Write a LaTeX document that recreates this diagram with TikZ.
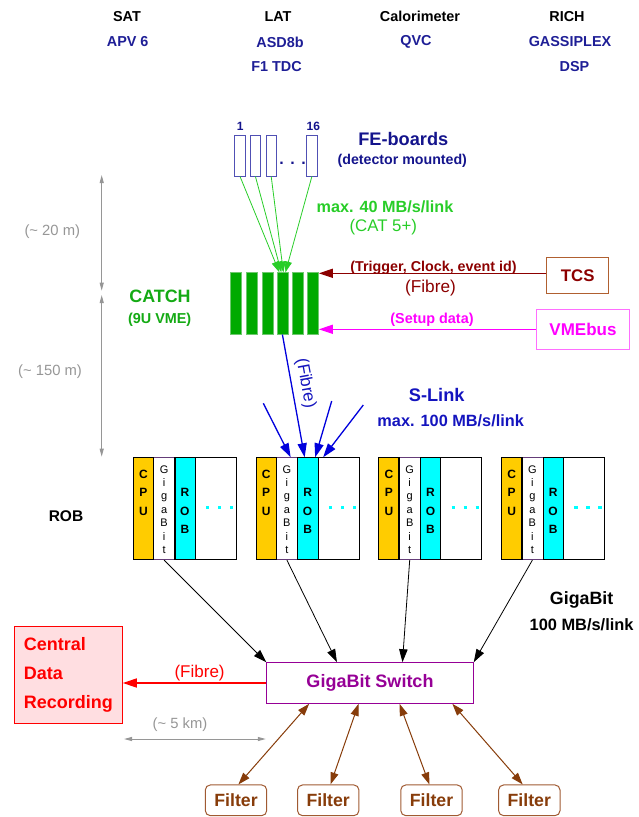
\documentclass[tikz,border=0pt]{standalone}
\usepackage{fontspec}
\setmainfont{Liberation Sans}
\usetikzlibrary{arrows.meta,calc}
\newcommand{\fsz}[1]{\fontsize{#1}{#1}\selectfont}
\definecolor{topblue}{RGB}{30,30,150}
\definecolor{feblue}{RGB}{80,80,180}
\definecolor{navy2}{RGB}{20,20,140}
\definecolor{lgreen}{RGB}{40,205,40}
\definecolor{dgreen}{RGB}{20,170,20}
\definecolor{barg}{RGB}{0,170,0}
\definecolor{barge}{RGB}{110,200,110}
\definecolor{dred}{RGB}{140,0,0}
\definecolor{tcsb}{RGB}{176,96,48}
\definecolor{mag}{RGB}{255,0,255}
\definecolor{magb}{RGB}{255,110,255}
\definecolor{barrow}{RGB}{0,0,220}
\definecolor{sblue}{RGB}{20,20,190}
\definecolor{gold}{RGB}{255,204,0}
\definecolor{cyn}{RGB}{0,255,255}
\definecolor{purp}{RGB}{150,0,150}
\definecolor{gpurp}{RGB}{100,60,120}
\definecolor{pinkf}{RGB}{255,222,225}
\definecolor{brn}{RGB}{135,60,10}
\definecolor{brnb}{RGB}{160,90,50}
\definecolor{gry}{RGB}{150,150,150}
\begin{document}
\begin{tikzpicture}[x=1pt,y=-1pt,
  lab/.style={inner sep=0pt,font=\bfseries\fsz{#1}},
  lab/.default=14.4,
  rlab/.style={inner sep=0pt,font=\fsz{#1}},
  rlab/.default=17,
  febox/.style={draw=feblue,line width=0.8pt,fill=white,minimum width=10.3pt,minimum height=41pt,inner sep=0pt},
  bar/.style={draw=barge,line width=0.5pt,fill=barg,minimum width=11pt,minimum height=61.6pt,inner sep=0pt},
  col/.style={draw=black,line width=0.8pt,minimum height=102pt,inner sep=0pt,anchor=north west},
  tip/.style={-{Triangle[length=#1,width=0.65*#1]}},
  tip/.default=12pt,
  garr/.style={lgreen,line width=0.8pt,tip=11pt},
  rarr/.style={dred,line width=1.2pt,tip=14pt},
  marr/.style={mag,line width=1.2pt,tip=14pt},
  barr/.style={barrow,line width=1.3pt,tip=14pt},
  karr/.style={black,line width=0.8pt,tip=13pt},
  brarr/.style={brn,line width=1pt,{Triangle[length=12pt,width=8pt]}-{Triangle[length=12pt,width=8pt]}},
  gyarr/.style={gry,line width=1pt,{Triangle[length=8pt,width=4pt]}-{Triangle[length=8pt,width=4pt]}},
  filt/.style={draw=brnb,line width=1pt,rounded corners=5pt,minimum width=61.4pt,minimum height=30.7pt,inner sep=0pt,text=brn,font=\bfseries\fsz{17.7}}
]
\useasboundingbox (0,0) rectangle (638,817);

% top row
\node[lab] (sat) at (127,16.5) {SAT};
\node[lab,text=topblue] (apv) at (127.7,42) {APV 6};
\node[lab] (lat) at (278,16.5) {LAT};
\node[lab,text=topblue] (asd) at (280,42) {ASD8b};
\node[lab,text=topblue] (f1) at (276.5,67) {F1 TDC};
\node[lab] (cal) at (420,16.5) {Calorimeter};
\node[lab,text=topblue] (qvc) at (416,42) {QVC};
\node[lab] (rich) at (567,16.5) {RICH};
\node[lab,text=topblue] (gas) at (570,42) {GASSIPLEX};
\node[lab,text=topblue] (dsp) at (574.5,67) {DSP};

% FE boards
\node[febox] (fe1) at (240,155.5) {};
\node[febox] (fe2) at (255.4,155.5) {};
\node[febox] (fe3) at (271.2,155.5) {};
\node[febox] (fe4) at (311.9,155.5) {};
\node[lab=12,text=navy2] (n1) at (240.3,126.7) {1};
\node[lab=12,text=navy2] (n16) at (313.3,126.7) {16};
\node[lab=16,text=navy2] (dots) at (292.6,163) {.\hspace{6.6pt}.\hspace{6.6pt}.};
\node[lab=18.2,text=navy2] (feb) at (403.3,139.3) {FE-boards};
\node[lab=14.2,text=navy2] (fem) at (402.3,161) {(detector mounted)};
\node[lab=16.2,text=lgreen] (m40) at (385,206.7) {max. 40 MB/s/link};
\node[rlab=16.8,text=lgreen] (cat5) at (383.3,226.7) {(CAT 5+)};

% CATCH
\foreach \i/\x in {1/235.8,2/251.35,3/267.3,4/282.4,5/297.95,6/313.1}
  \node[bar] (bar\i) at (\x,303.5) {};
\node[lab=17.9,text=dgreen] (catch) at (160,296.7) {CATCH};
\node[lab=14.4,text=dgreen] (vme9) at (159.7,319.3) {(9U VME)};

\draw[garr] (fe1.south) -- ([xshift=-3pt]bar4.north);
\draw[garr] (fe2.south) -- ([xshift=-1pt]bar4.north);
\draw[garr] (fe3.south) -- ([xshift=1pt]bar4.north);
\draw[garr] (fe4.south) -- ([xshift=3pt]bar4.north);

% TCS and VMEbus
\node[draw=tcsb,line width=1pt,minimum width=62pt,minimum height=36pt,inner sep=0pt,text=dred,font=\bfseries\fsz{16.8}] (tcs) at (577.7,275.3) {TCS};
\node[draw=magb,line width=1.5pt,minimum width=92.6pt,minimum height=40pt,inner sep=0pt,text=mag,font=\bfseries\fsz{17}] (vmebus) at (583,329.3) {VMEbus};
\draw[rarr] ([yshift=2pt]tcs.west) -- ([yshift=2pt]tcs.west -| bar6.east);
\node[lab=14.3,text=dred] (trig) at (433.5,268.3) {(Trigger, Clock, event id)};
\node[rlab=17.2,text=dred] (fib1) at (430.5,288.3) {(Fibre)};
\draw[marr] (vmebus.west) -- (vmebus.west -| bar6.east);
\node[lab=14.4,text=mag] (setup) at (432,319.3) {(Setup data)};

% distance arrows left
\coordinate (d1) at (101.7,175);
\coordinate (d2) at (101.7,290.7);
\coordinate (d3) at (101.7,295);
\coordinate (d4) at (101.7,456.7);
\draw[gyarr] (d1) -- (d2);
\draw[gyarr] (d3) -- (d4);
\node[rlab=14.8,text=gry] (m20) at (52.3,231.7) {(\textasciitilde{} 20 m)};
\node[rlab=14.8,text=gry] (m150) at (50,371.7) {(\textasciitilde{} 150 m)};

% ROB crates
\foreach \i/\x in {1/132.7,2/255.5,3/378.3,4/501} {
  \node[col,draw=gpurp,fill=white,minimum width=21pt] (giga\i) at ({\x+20.5},457.3) {};
  \node[col,fill=gold,minimum width=20.5pt] (cpu\i) at (\x,457.3) {};
  \node[col,fill=cyn,minimum width=20.5pt] (rob\i) at ({\x+41.5},457.3) {};
  \node[col,fill=white,minimum width=41pt] (rest\i) at ({\x+62},457.3) {};
  \draw[black,line width=0.8pt] (giga\i.north west) -- (giga\i.south west) (giga\i.north east) -- (giga\i.south east);
  \node[inner sep=0pt,align=center,font=\bfseries\fontsize{12}{18.5}\selectfont] (cput\i) at (cpu\i.center |- 0,492.5) {C\\P\\U};
  \node[inner sep=0pt,align=center,font=\fontsize{11}{13.4}\selectfont] (gigat\i) at (giga\i.center |- 0,509.5) {G\\i\\g\\a\\B\\i\\t};
  \node[inner sep=0pt,align=center,font=\bfseries\fontsize{12}{18.5}\selectfont] (robt\i) at (rob\i.center |- 0,511) {R\\O\\B};
  \draw[cyn,line width=3pt,dash pattern=on 3.3pt off 8.7pt] ({\x+73.3},507.3) -- ({\x+101},507.3);
}
\node[lab=15.5] (roblab) at (66,516) {ROB};

% S-Link arrows
\coordinate (s1) at (263.3,403.3);
\coordinate (s2) at (331.7,401);
\coordinate (s3) at (363.3,405);
\draw[barr] (bar4.south) -- ([xshift=-3pt]rob2.north);
\draw[barr] (s1) -- ([xshift=-17pt]rob2.north);
\draw[barr] (s2) -- ([xshift=7.5pt]rob2.north);
\draw[barr] (s3) -- ([xshift=15.5pt]rob2.north);
\node[rlab=17,text=sblue,rotate=-79.6] (fib2) at (305.5,383.3) {(Fibre)};
\node[lab=18.2,text=sblue] (slink) at (436.7,395) {S-Link};
\node[lab=16.3,text=sblue] (m100) at (450.7,421) {max. 100 MB/s/link};

% GigaBit switch
\node[draw=purp,line width=1pt,minimum width=206.5pt,minimum height=40.6pt,inner sep=0pt,text=purp,font=\bfseries\fsz{18}] (sw) at (370,683) {GigaBit Switch};
\draw[karr] (giga1.south) -- (sw.north west);
\draw[karr] (giga2.south) -- ([xshift=70.7pt]sw.north west);
\draw[karr] (giga3.south) -- ([xshift=136.2pt]sw.north west);
\draw[karr] (giga4.south) -- (sw.north east);
\node[lab=17.8] (gb) at (581.6,600) {GigaBit};
\node[lab=16.4] (gbl) at (581.6,625) {100 MB/s/link};

% Central data recording
\node[draw=red,line width=1pt,fill=pinkf,minimum width=108pt,minimum height=96.6pt,inner sep=0pt,text=red,align=left,font=\bfseries\fontsize{18}{29}\selectfont] (cdr) at (68.3,675) {Central\\Data\\Recording};
\draw[red,line width=1.2pt,tip=14pt] (sw.west) -- (sw.west -| cdr.east);
\node[rlab=17,text=red] (fib3) at (199.6,673.3) {(Fibre)};
\coordinate (k1) at (124,739);
\coordinate (k2) at (265.8,739);
\draw[gyarr] (k1) -- (k2);
\node[rlab=14.8,text=gry] (km5) at (180,725) {(\textasciitilde{} 5 km)};

% Filters
\node[filt] (fl1) at (236,800.3) {Filter};
\node[filt] (fl2) at (328.2,800.3) {Filter};
\node[filt] (fl3) at (431.5,800.3) {Filter};
\node[filt] (fl4) at (529.3,800.3) {Filter};
\draw[brarr] ([xshift=42.9pt]sw.south west) -- ([xshift=2.4pt]fl1.north);
\draw[brarr] ([xshift=92.3pt]sw.south west) -- ([xshift=2.3pt]fl2.north);
\draw[brarr] ([xshift=133.3pt]sw.south west) -- ([xshift=-2.1pt]fl3.north);
\draw[brarr] ([xshift=186.1pt]sw.south west) -- ([xshift=-6.6pt]fl4.north);
\end{tikzpicture}
\end{document}
